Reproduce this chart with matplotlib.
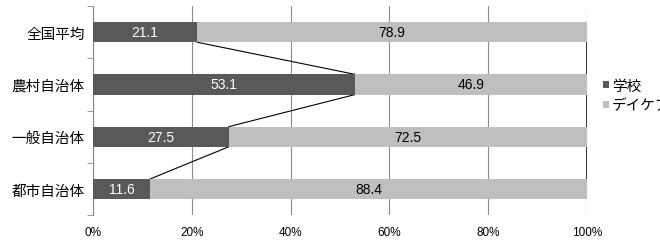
import matplotlib.pyplot as plt
import numpy as np

plt.rcParams['font.family'] = ['Noto Sans CJK JP', 'DejaVu Sans']

categories = ["全国平均", "農村自治体", "一般自治体", "都市自治体"]
school = [21.1, 53.1, 27.5, 11.6]
daycare = [78.9, 46.9, 72.5, 88.4]
series_names = ["学校", "デイケア"]

dark = "#595959"
light = "#bfbfbf"
bar_h = 0.385

fig = plt.figure(figsize=(6.6, 2.53), dpi=100)
ax = fig.add_axes([0.141, 0.146, 0.748, 0.826])

y = np.arange(len(categories))
b1 = ax.barh(y, school, height=bar_h, color=dark, label=series_names[0], zorder=3)
b2 = ax.barh(y, daycare, left=school, height=bar_h, color=light, label=series_names[1], zorder=3)

# value labels
for i in range(len(categories)):
    ax.text(school[i] / 2, y[i], f"{school[i]:.1f}", color="white",
            ha="center", va="center", fontsize=10, zorder=4, family="Liberation Sans")
    ax.text(school[i] + daycare[i] / 2, y[i], f"{daycare[i]:.1f}", color="black",
            ha="center", va="center", fontsize=10, zorder=4, family="Liberation Sans")

# series lines between bars
for i in range(len(categories) - 1):
    ax.plot([school[i], school[i + 1]], [y[i] + bar_h / 2, y[i + 1] - bar_h / 2],
            color="black", lw=0.8, zorder=2)
    tot0 = school[i] + daycare[i]
    tot1 = school[i + 1] + daycare[i + 1]
    ax.plot([tot0, tot1], [y[i] + bar_h / 2, y[i + 1] - bar_h / 2],
            color="#333333", lw=1.4, zorder=2)

ax.set_xlim(0, 100)
ax.set_ylim(3.5, -0.5)
ax.set_yticks(y)
ax.set_yticklabels(categories, fontsize=10.5)
ax.set_yticks(np.arange(-0.5, 4, 1), minor=True)
ax.tick_params(axis="y", which="major", length=0, pad=6)
ax.tick_params(axis="y", which="minor", length=4, color="#888888", direction="out")
ax.set_xticks([0, 20, 40, 60, 80, 100])
ax.set_xticklabels(["0%", "20%", "40%", "60%", "80%", "100%"], fontsize=8.5,
                   family="Liberation Sans")
ax.tick_params(axis="x", length=0, pad=8)
ax.xaxis.grid(True, color="#8c8c8c", lw=0.8, zorder=0)

for s in ["top", "right", "bottom"]:
    ax.spines[s].set_visible(False)
ax.spines["left"].set_color("#888888")

ax.legend(handles=[b1, b2], loc="upper left", bbox_to_anchor=(1.022, 0.68),
          frameon=False, fontsize=10.5, handlelength=0.35, handleheight=0.35,
          handletextpad=0.25, labelspacing=0.4, borderaxespad=0)

fig.savefig("out.png", dpi=100)
